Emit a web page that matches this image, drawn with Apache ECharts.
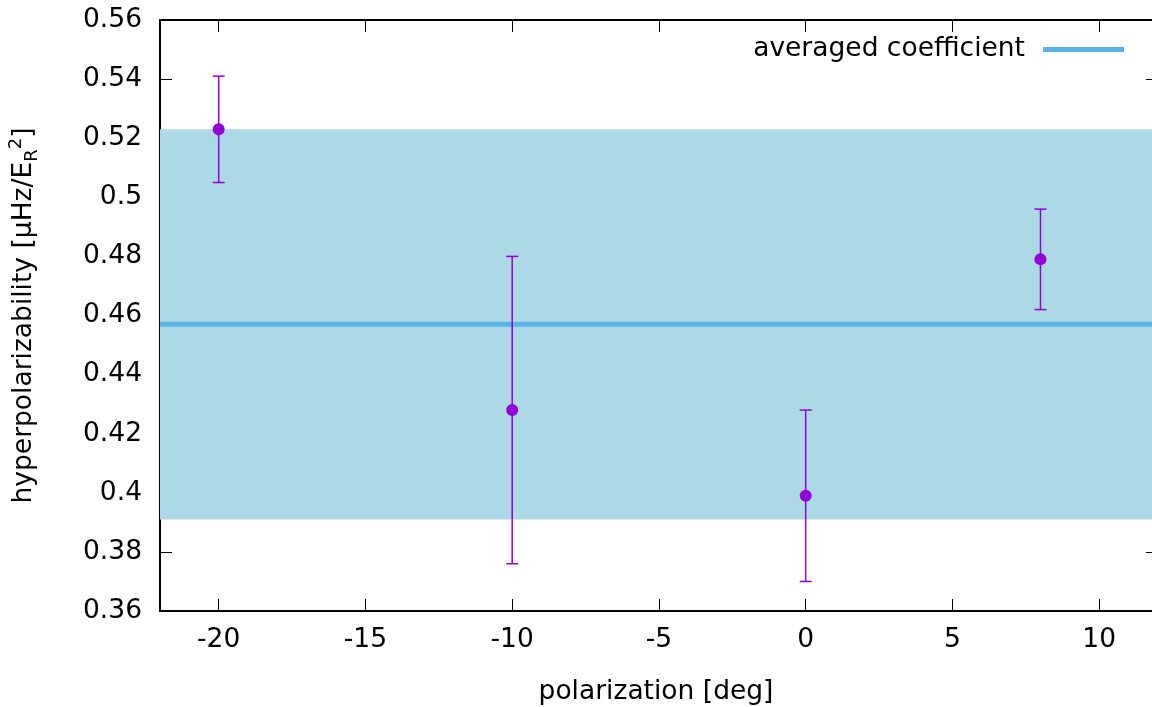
<!DOCTYPE html>
<html><head><meta charset="utf-8">
<script src="https://cdn.jsdelivr.net/npm/echarts@6/dist/echarts.min.js"></script>
<style>html,body{margin:0;padding:0;background:#fff}#c{width:1152px;height:707px}</style>
</head><body><div id="c"></div>
<script>
const polarization = [-20, -10, 0, 8];
const coefficient = [0.523, 0.428, 0.399, 0.479];
const errLow = [0.505, 0.376, 0.370, 0.462];
const errHigh = [0.541, 0.480, 0.428, 0.496];
const averagedCoefficient = 0.457;
const bandLow = 0.391;
const bandHigh = 0.523;
const xRange = [-22, 11.8];
const yRange = [0.36, 0.56];
const xTicks = [-20, -15, -10, -5, 0, 5, 10];
const yTickStep = 0.02;

const FONT = 'DejaVu Sans';
const FS = 26.5;
const chart = echarts.init(document.getElementById('c'), null, {renderer: 'canvas'});

const axisLineStyle = {show: true, onZero: false, lineStyle: {color: '#000', width: 2}};
const tickStyle = {show: true, inside: true, length: 12, lineStyle: {color: '#000', width: 1}};

chart.setOption({
  animation: false,
  backgroundColor: '#fff',
  textStyle: {fontFamily: FONT},
  grid: {left: 160, right: 0, top: 20, bottom: 96, containLabel: false, outerBoundsMode: 'none'},
  legend: {
    data: [{name: 'averaged coefficient', icon: 'rect'}],
    align: 'right',
    right: 23,
    top: 31,
    itemWidth: 81,
    itemHeight: 5,
    textStyle: {fontFamily: FONT, fontSize: FS, color: '#000', padding: [0, 13, 0, 0]}
  },
  xAxis: [{
    type: 'value', min: xRange[0], max: xRange[1], position: 'bottom',
    name: 'polarization [deg]', nameLocation: 'middle', nameGap: 68,
    nameTextStyle: {fontFamily: FONT, fontSize: FS, color: '#000'},
    axisLine: axisLineStyle,
    axisTick: Object.assign({customValues: xTicks}, tickStyle),
    axisLabel: {customValues: xTicks, fontFamily: FONT, fontSize: FS, color: '#000', margin: 16},
    splitLine: {show: false}
  }, {
    type: 'value', min: xRange[0], max: xRange[1], position: 'top',
    axisLine: axisLineStyle,
    axisTick: Object.assign({customValues: xTicks}, tickStyle),
    axisLabel: {show: false},
    splitLine: {show: false}
  }],
  yAxis: [{
    type: 'value', min: yRange[0], max: yRange[1], interval: yTickStep, position: 'left',
    name: 'hyperpolarizability [µHz/E{sub|R}{sup|2}]',
    nameLocation: 'middle', nameRotate: 90, nameGap: 119,
    nameTextStyle: {
      fontFamily: FONT, fontSize: FS, color: '#000',
      rich: {
        sub: {fontFamily: FONT, fontSize: 18, color: '#000', verticalAlign: 'bottom', padding: [10, 0, 0, 0]},
        sup: {fontFamily: FONT, fontSize: 18, color: '#000', verticalAlign: 'top', padding: [0, 0, 16, 0]}
      }
    },
    axisLine: axisLineStyle,
    axisTick: tickStyle,
    axisLabel: {fontFamily: FONT, fontSize: FS, color: '#000', margin: 18},
    splitLine: {show: false}
  }, {
    type: 'value', min: yRange[0], max: yRange[1], interval: yTickStep, position: 'right',
    axisLine: {show: false, onZero: false},
    axisTick: {show: true, inside: true, length: 6, lineStyle: {color: '#000', width: 1}},
    axisLabel: {show: false},
    splitLine: {show: false}
  }],
  series: [{
    name: 'band', type: 'line', data: [], z: 1, silent: true,
    markArea: {
      silent: true,
      itemStyle: {color: '#ADD8E6', opacity: 1},
      data: [[{yAxis: bandLow}, {yAxis: bandHigh}]]
    }
  }, {
    name: 'averaged coefficient', type: 'line', z: 2,
    color: '#56B4E9',
    symbol: 'none',
    lineStyle: {color: '#56B4E9', width: 5},
    data: [[xRange[0], averagedCoefficient], [xRange[1], averagedCoefficient]]
  }, {
    name: 'errors', type: 'custom', z: 3,
    data: polarization.map((x, i) => [x, errLow[i], errHigh[i]]),
    encode: {x: 0, y: [1, 2]},
    renderItem: function (params, api) {
      const x = api.value(0);
      const pLo = api.coord([x, api.value(1)]);
      const pHi = api.coord([x, api.value(2)]);
      const hw = 6;
      const st = {stroke: '#9400D3', lineWidth: 1.5};
      return {type: 'group', children: [
        {type: 'line', shape: {x1: pLo[0], y1: pLo[1], x2: pHi[0], y2: pHi[1]}, style: st},
        {type: 'line', shape: {x1: pLo[0] - hw, y1: pLo[1], x2: pLo[0] + hw, y2: pLo[1]}, style: st},
        {type: 'line', shape: {x1: pHi[0] - hw, y1: pHi[1], x2: pHi[0] + hw, y2: pHi[1]}, style: st}
      ]};
    }
  }, {
    name: 'points', type: 'scatter', z: 4,
    symbol: 'circle', symbolSize: 12,
    itemStyle: {color: '#9400D3', opacity: 1},
    data: polarization.map((x, i) => [x, coefficient[i]])
  }]
});
</script>
</body></html>
